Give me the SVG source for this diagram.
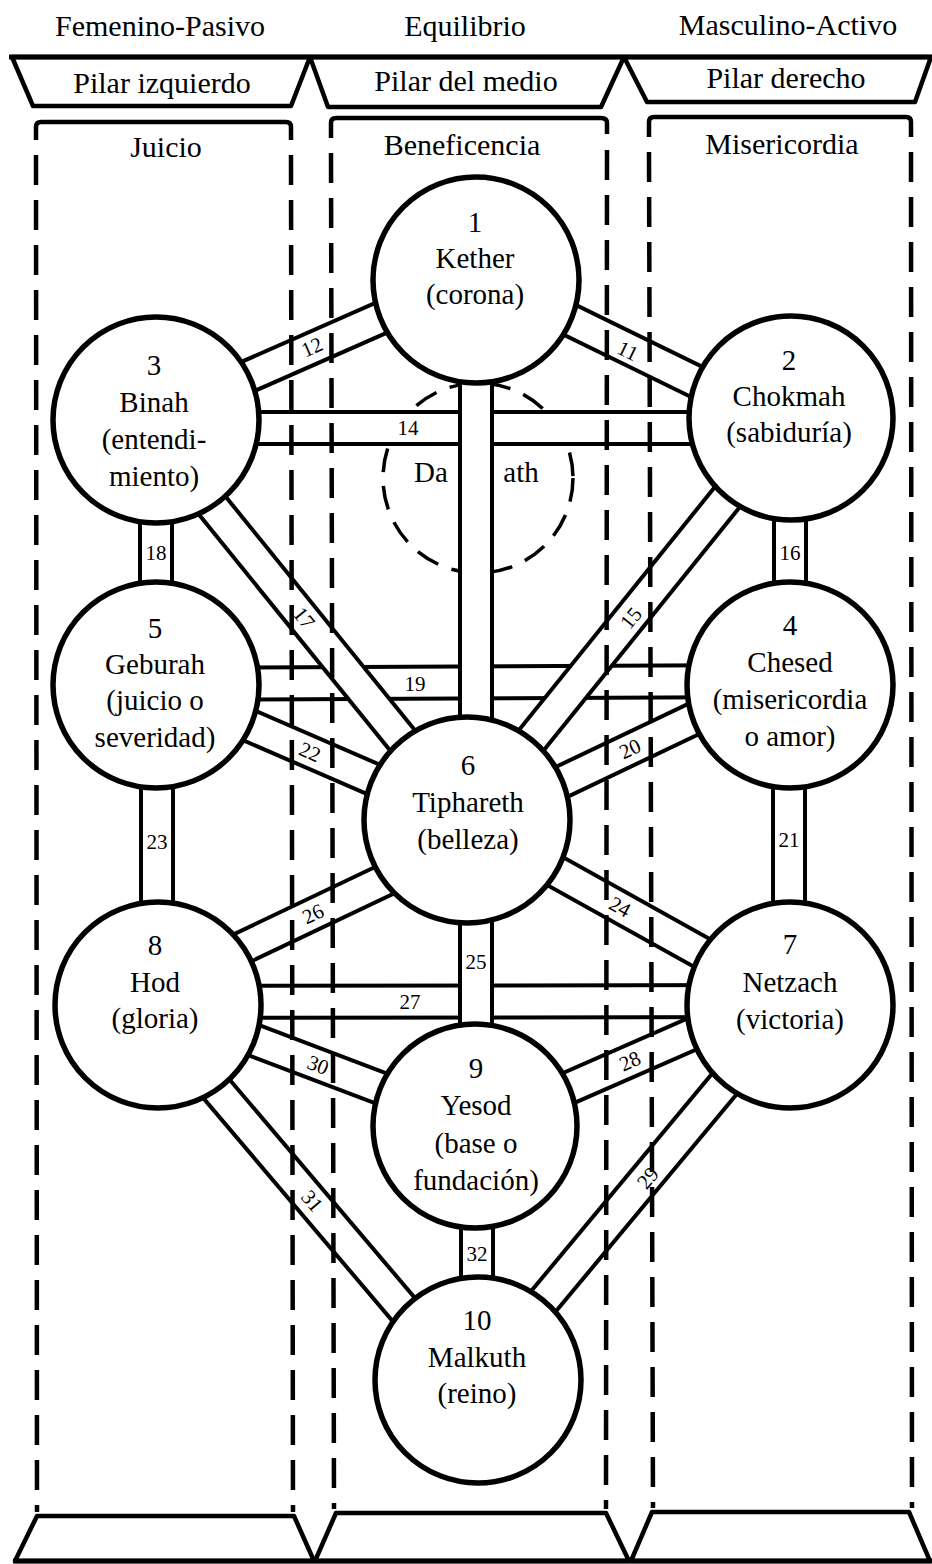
<svg xmlns="http://www.w3.org/2000/svg" width="932" height="1564" viewBox="0 0 932 1564">
<style>
.t{font-family:"Liberation Serif","DejaVu Serif",serif;font-size:29px;text-anchor:middle;fill:#000}
.h{font-size:30px}
.l{font-size:21px;dominant-baseline:central}
.o{stroke:#000;stroke-width:36;fill:none}
.i{stroke:#fff;stroke-width:28;fill:none}
.n{fill:#fff;stroke:#000;stroke-width:5.5}
.ds{stroke:#000;stroke-width:4.5;fill:none;stroke-dasharray:30 15}
.sl{stroke:#000;stroke-width:4.5;fill:none;stroke-linejoin:round}
.dc{stroke:#000;stroke-width:3.5;fill:none;stroke-dasharray:24 14}
</style>
<rect width="932" height="1564" fill="#fff"/>
<g id="headers">
<path class="sl" d="M9,57 H932" style="stroke-width:5"/>
<polygon class="sl" points="12,57 33,106 291,106 310,57"/>
<polygon class="sl" points="310,57 328,107 601,107 624,57"/>
<polygon class="sl" points="624,57 647,102 915,102 931,57"/>
<text class="t h" x="160" y="36">Femenino-Pasivo</text>
<text class="t h" x="465" y="36">Equilibrio</text>
<text class="t h" x="788" y="35">Masculino-Activo</text>
<text class="t h" x="162" y="93">Pilar izquierdo</text>
<text class="t h" x="466" y="91">Pilar del medio</text>
<text class="t h" x="786" y="88">Pilar derecho</text>
</g>
<g id="daath">
<circle class="dc" cx="478" cy="478" r="95"/>
</g>
<g id="connectors">
<g id="p14"><line class="o" x1="156" y1="428" x2="791" y2="428"/><line class="i" x1="156" y1="428" x2="791" y2="428"/></g>
<g id="p19"><line class="o" x1="156" y1="684" x2="790" y2="681"/><line class="i" x1="156" y1="684" x2="790" y2="681"/></g>
<g id="p27"><line class="o" x1="158" y1="1002" x2="790" y2="1001"/><line class="i" x1="158" y1="1002" x2="790" y2="1001"/></g>
<g id="p12"><line class="o" x1="156" y1="417" x2="476" y2="276"/><line class="i" x1="156" y1="417" x2="476" y2="276"/></g>
<g id="p11"><line class="o" x1="476" y1="274" x2="791" y2="428"/><line class="i" x1="476" y1="274" x2="791" y2="428"/></g>
<g id="p17"><line class="o" x1="143" y1="420" x2="467" y2="820"/><line class="i" x1="143" y1="420" x2="467" y2="820"/></g>
<g id="p15"><line class="o" x1="791" y1="418" x2="467" y2="820"/><line class="i" x1="791" y1="418" x2="467" y2="820"/></g>
<g id="p22"><line class="o" x1="156" y1="685" x2="467" y2="820"/><line class="i" x1="156" y1="685" x2="467" y2="820"/></g>
<g id="p20"><line class="o" x1="790" y1="673" x2="467" y2="827"/><line class="i" x1="790" y1="673" x2="467" y2="827"/></g>
<g id="p26"><line class="o" x1="158" y1="988" x2="467" y2="841"/><line class="i" x1="158" y1="988" x2="467" y2="841"/></g>
<g id="p24"><line class="o" x1="467" y1="822" x2="790" y2="1002"/><line class="i" x1="467" y1="822" x2="790" y2="1002"/></g>
<g id="p30"><line class="o" x1="158" y1="1004" x2="475" y2="1124"/><line class="i" x1="158" y1="1004" x2="475" y2="1124"/></g>
<g id="p28"><line class="o" x1="790" y1="991" x2="475" y2="1129"/><line class="i" x1="790" y1="991" x2="475" y2="1129"/></g>
<g id="p31"><line class="o" x1="158" y1="1020" x2="478" y2="1397"/><line class="i" x1="158" y1="1020" x2="478" y2="1397"/></g>
<g id="p29"><line class="o" x1="790" y1="1005" x2="478" y2="1380"/><line class="i" x1="790" y1="1005" x2="478" y2="1380"/></g>
<g id="p13"><line class="o" x1="476" y1="280" x2="476" y2="820"/><line class="i" x1="476" y1="280" x2="476" y2="820"/></g>
<g id="p25"><line class="o" x1="476" y1="820" x2="476" y2="1126"/><line class="i" x1="476" y1="820" x2="476" y2="1126"/></g>
<g id="p32"><line class="o" x1="477" y1="1126" x2="477" y2="1380"/><line class="i" x1="477" y1="1126" x2="477" y2="1380"/></g>
<g id="p18"><line class="o" x1="156" y1="420" x2="156" y2="685"/><line class="i" x1="156" y1="420" x2="156" y2="685"/></g>
<g id="p16"><line class="o" x1="790" y1="418" x2="790" y2="685"/><line class="i" x1="790" y1="418" x2="790" y2="685"/></g>
<g id="p23"><line class="o" x1="157" y1="685" x2="157" y2="1005"/><line class="i" x1="157" y1="685" x2="157" y2="1005"/></g>
<g id="p21"><line class="o" x1="789" y1="685" x2="789" y2="1005"/><line class="i" x1="789" y1="685" x2="789" y2="1005"/></g>
<g id="path-labels">
<text class="t l" transform="translate(312,347) rotate(-24)">12</text>
<text class="t l" transform="translate(628,351) rotate(26)">11</text>
<text class="t l" x="408" y="428">14</text>
<text class="t l" transform="translate(304,618) rotate(51)">17</text>
<text class="t l" transform="translate(631,618) rotate(-51)">15</text>
<text class="t l" x="156" y="553">18</text>
<text class="t l" x="790" y="553">16</text>
<text class="t l" x="415" y="684">19</text>
<text class="t l" transform="translate(310,752) rotate(23)">22</text>
<text class="t l" transform="translate(630,749) rotate(-25)">20</text>
<text class="t l" x="157" y="842">23</text>
<text class="t l" x="789" y="840">21</text>
<text class="t l" transform="translate(313,914) rotate(-25)">26</text>
<text class="t l" transform="translate(620,907) rotate(29)">24</text>
<text class="t l" x="476" y="962">25</text>
<text class="t l" x="410" y="1002">27</text>
<text class="t l" transform="translate(318,1065) rotate(21)">30</text>
<text class="t l" transform="translate(630,1061) rotate(-24)">28</text>
<text class="t l" transform="translate(312,1201) rotate(50)">31</text>
<text class="t l" transform="translate(648,1178) rotate(-50)">29</text>
<text class="t l" x="477" y="1254">32</text>
</g>
</g>
<g id="columns">
<path class="sl" d="M36,140 V127 Q36,122 41,122 H286 Q291,122 291,127 V140"/>
<path class="sl" d="M331,138 V123 Q331,118 336,118 H601 Q607,118 607,123 V134"/>
<path class="sl" d="M649,137 V122 Q649,117 654,117 H906 Q911,117 911,122 V137"/>
<line class="ds" x1="36" y1="155" x2="37" y2="1512"/>
<line class="ds" x1="291" y1="155" x2="293" y2="1512"/>
<line class="ds" x1="331" y1="153" x2="334" y2="1509"/>
<line class="ds" x1="607" y1="150" x2="606" y2="1509"/>
<line class="ds" x1="649" y1="152" x2="653" y2="1508"/>
<line class="ds" x1="911" y1="152" x2="912" y2="1508"/>
<text class="t h" x="166" y="157">Juicio</text>
<text class="t h" x="462" y="155">Beneficencia</text>
<text class="t h" x="782" y="154">Misericordia</text>
<polygon class="sl" points="37,1516 294,1516 314,1561 15,1561"/>
<polygon class="sl" points="336,1513 606,1513 629,1561 315,1561"/>
<polygon class="sl" points="652,1512 909,1512 930,1561 631,1561"/>
<path class="sl" d="M13,1561 H932" style="stroke-width:5"/>
</g>
<g id="daath-label">
<text class="t" x="431" y="482">Da</text>
<text class="t" x="521" y="482">ath</text>
</g>
<g id="n1"><circle class="n" cx="476" cy="280" r="103"/>
<text class="t" x="475" y="232">1</text><text class="t" x="475" y="268">Kether</text><text class="t" x="475" y="304">(corona)</text></g>
<g id="n2"><circle class="n" cx="791" cy="418" r="102"/>
<text class="t" x="789" y="370">2</text><text class="t" x="789" y="406">Chokmah</text><text class="t" x="789" y="442">(sabiduría)</text></g>
<g id="n3"><circle class="n" cx="156" cy="420" r="103"/>
<text class="t" x="154" y="375">3</text><text class="t" x="154" y="412">Binah</text><text class="t" x="154" y="449">(entendi-</text><text class="t" x="154" y="486">miento)</text></g>
<g id="n4"><circle class="n" cx="790" cy="685" r="103"/>
<text class="t" x="790" y="635">4</text><text class="t" x="790" y="672">Chesed</text><text class="t" x="790" y="709">(misericordia</text><text class="t" x="790" y="746">o amor)</text></g>
<g id="n5"><circle class="n" cx="156" cy="685" r="103"/>
<text class="t" x="155" y="638">5</text><text class="t" x="155" y="674">Geburah</text><text class="t" x="155" y="710">(juicio o</text><text class="t" x="155" y="747">severidad)</text></g>
<g id="n6"><circle class="n" cx="467" cy="820" r="103"/>
<text class="t" x="468" y="775">6</text><text class="t" x="468" y="812">Tiphareth</text><text class="t" x="468" y="849">(belleza)</text></g>
<g id="n7"><circle class="n" cx="790" cy="1005" r="103"/>
<text class="t" x="790" y="954">7</text><text class="t" x="790" y="992">Netzach</text><text class="t" x="790" y="1029">(victoria)</text></g>
<g id="n8"><circle class="n" cx="158" cy="1005" r="103"/>
<text class="t" x="155" y="955">8</text><text class="t" x="155" y="992">Hod</text><text class="t" x="155" y="1028">(gloria)</text></g>
<g id="n9"><circle class="n" cx="475" cy="1126" r="102"/>
<text class="t" x="476" y="1078">9</text><text class="t" x="476" y="1115">Yesod</text><text class="t" x="476" y="1153">(base o</text><text class="t" x="476" y="1190">fundación)</text></g>
<g id="n10"><circle class="n" cx="478" cy="1380" r="103"/>
<text class="t" x="477" y="1330">10</text><text class="t" x="477" y="1367">Malkuth</text><text class="t" x="477" y="1403">(reino)</text></g>
</svg>
